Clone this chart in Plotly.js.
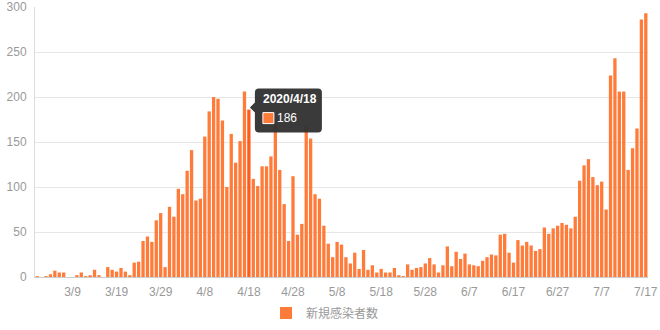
<!DOCTYPE html>
<html>
<head>
<meta charset="utf-8">
<script src="https://cdn.plot.ly/plotly-3.0.1.min.js"></script>
<style>
  html, body { margin: 0; padding: 0; background: #fff; }
  #chart { width: 660px; height: 330px; }
</style>
</head>
<body>
<div id="chart"></div>
<script>
// ---- data ----
const year = 2020;
const seriesName = '新規感染者数';
const dates = [
  '3/1','3/2','3/3','3/4','3/5','3/6','3/7','3/8','3/9','3/10',
  '3/11','3/12','3/13','3/14','3/15','3/16','3/17','3/18','3/19','3/20',
  '3/21','3/22','3/23','3/24','3/25','3/26','3/27','3/28','3/29','3/30',
  '3/31','4/1','4/2','4/3','4/4','4/5','4/6','4/7','4/8','4/9',
  '4/10','4/11','4/12','4/13','4/14','4/15','4/16','4/17','4/18','4/19',
  '4/20','4/21','4/22','4/23','4/24','4/25','4/26','4/27','4/28','4/29',
  '4/30','5/1','5/2','5/3','5/4','5/5','5/6','5/7','5/8','5/9',
  '5/10','5/11','5/12','5/13','5/14','5/15','5/16','5/17','5/18','5/19',
  '5/20','5/21','5/22','5/23','5/24','5/25','5/26','5/27','5/28','5/29',
  '5/30','5/31','6/1','6/2','6/3','6/4','6/5','6/6','6/7','6/8',
  '6/9','6/10','6/11','6/12','6/13','6/14','6/15','6/16','6/17','6/18',
  '6/19','6/20','6/21','6/22','6/23','6/24','6/25','6/26','6/27','6/28',
  '6/29','6/30','7/1','7/2','7/3','7/4','7/5','7/6','7/7','7/8',
  '7/9','7/10','7/11','7/12','7/13','7/14','7/15','7/16','7/17'
];
const newCases = [
  1, 0, 1, 3, 7, 5, 5, 0, 0, 2,
  5, 1, 2, 8, 2, 0, 11, 8, 6, 10,
  6, 2, 16, 17, 40, 45, 39, 63, 71, 11,
  78, 67, 98, 92, 118, 141, 85, 87, 156, 184,
  200, 198, 174, 100, 159, 127, 151, 206, 186, 109,
  101, 123, 123, 134, 170, 119, 81, 40, 112, 47,
  59, 168, 154, 92, 87, 57, 37, 22, 39, 36,
  22, 15, 27, 9, 30, 8, 13, 5, 9, 5,
  5, 10, 2, 1, 14, 8, 10, 11, 15, 21,
  14, 5, 13, 34, 12, 28, 20, 26, 14, 13,
  12, 18, 22, 25, 24, 47, 48, 27, 16, 41,
  35, 39, 35, 29, 31, 55, 48, 54, 57, 60,
  58, 54, 67, 107, 124, 131, 111, 102, 106, 75,
  224, 243, 206, 206, 119, 143, 165, 286, 293
];
const tickLabels = ['3/9','3/19','3/29','4/8','4/18','4/28','5/8','5/18','5/28','6/7','6/17','6/27','7/7','7/17'];
const highlightDate = '4/18';

// ---- styles ----
const barColor = '#ff7b3a';
const barHighlight = '#ff5c1c';
const labelColor = '#999999';
const fontLatin = 'Liberation Sans, Arial, Noto Sans CJK JP, sans-serif';

const hi = dates.indexOf(highlightDate);
const colors = dates.map((d, i) => i === hi ? barHighlight : barColor);

const trace = {
  type: 'bar',
  name: seriesName,
  x: dates,
  y: newCases,
  marker: { color: colors, line: { width: 0 } },
  showlegend: true,
  hoverinfo: 'skip'
};

// tooltip anchored at the highlighted bar's top (pixel offsets from it)
const tipAnchor = { xref: 'x', yref: 'y', xsizemode: 'pixel', ysizemode: 'pixel', xanchor: hi, yanchor: newCases[hi] };
const shapes = [
  Object.assign({}, tipAnchor, {
    type: 'path',
    path: 'M10,21 L69,21 Q73,21 73,17 L73,-19 Q73,-23 69,-23 L10,-23 Q6,-23 6,-19 L6,-3 L1,2 L6,7 L6,17 Q6,21 10,21 Z',
    fillcolor: 'rgba(50,50,50,0.96)',
    line: { width: 0 },
    layer: 'above'
  }),
  Object.assign({}, tipAnchor, {
    type: 'rect',
    x0: 14, x1: 25, y0: -3, y1: -14,
    fillcolor: barColor,
    line: { color: '#ffffff', width: 1 },
    layer: 'above'
  })
];

const annotations = [
  {
    xref: 'x', yref: 'y', x: hi, y: newCases[hi],
    xshift: 12, yshift: 11, xanchor: 'left', yanchor: 'middle',
    showarrow: false,
    text: '<b>' + year + '/' + highlightDate + '</b>',
    font: { family: fontLatin, size: 12, color: '#ffffff' }
  },
  {
    xref: 'x', yref: 'y', x: hi, y: newCases[hi],
    xshift: 26, yshift: -8, xanchor: 'left', yanchor: 'middle',
    showarrow: false,
    text: String(newCases[hi]),
    font: { family: fontLatin, size: 12, color: '#ffffff' }
  }
];

const layout = {
  width: 660,
  height: 330,
  margin: { l: 35, r: 12, t: 7, b: 53, autoexpand: false },
  paper_bgcolor: '#ffffff',
  plot_bgcolor: '#ffffff',
  font: { family: fontLatin, size: 12, color: labelColor },
  bargap: 0.25,
  hovermode: false,
  xaxis: {
    type: 'category',
    tickmode: 'array',
    tickvals: tickLabels,
    ticktext: tickLabels,
    ticks: '',
    showgrid: false,
    showline: true,
    linecolor: '#cccccc',
    linewidth: 1,
    zeroline: false,
    automargin: false,
    tickfont: { family: fontLatin, size: 12, color: labelColor },
    ticklabelstandoff: 4,
    fixedrange: true
  },
  yaxis: {
    range: [0, 300],
    tickmode: 'linear',
    tick0: 0,
    dtick: 50,
    ticks: '',
    showgrid: true,
    gridcolor: '#e6e6e6',
    gridwidth: 1,
    showline: true,
    linecolor: '#dddddd',
    linewidth: 1,
    zeroline: false,
    automargin: false,
    tickfont: { family: fontLatin, size: 12, color: labelColor },
    ticklabelstandoff: 5,
    fixedrange: true
  },
  showlegend: true,
  legend: {
    orientation: 'h',
    xref: 'container',
    yref: 'container',
    x: 266 / 660,
    xanchor: 'left',
    y: 1 - 313 / 330,
    yanchor: 'middle',
    font: { family: 'Noto Sans CJK JP, Liberation Sans, sans-serif', size: 12, color: labelColor },
    bgcolor: 'rgba(0,0,0,0)',
    itemwidth: 30
  },
  shapes: shapes,
  annotations: annotations
};

Plotly.newPlot('chart', [trace], layout, { displayModeBar: false, staticPlot: true });
</script>
</body>
</html>
